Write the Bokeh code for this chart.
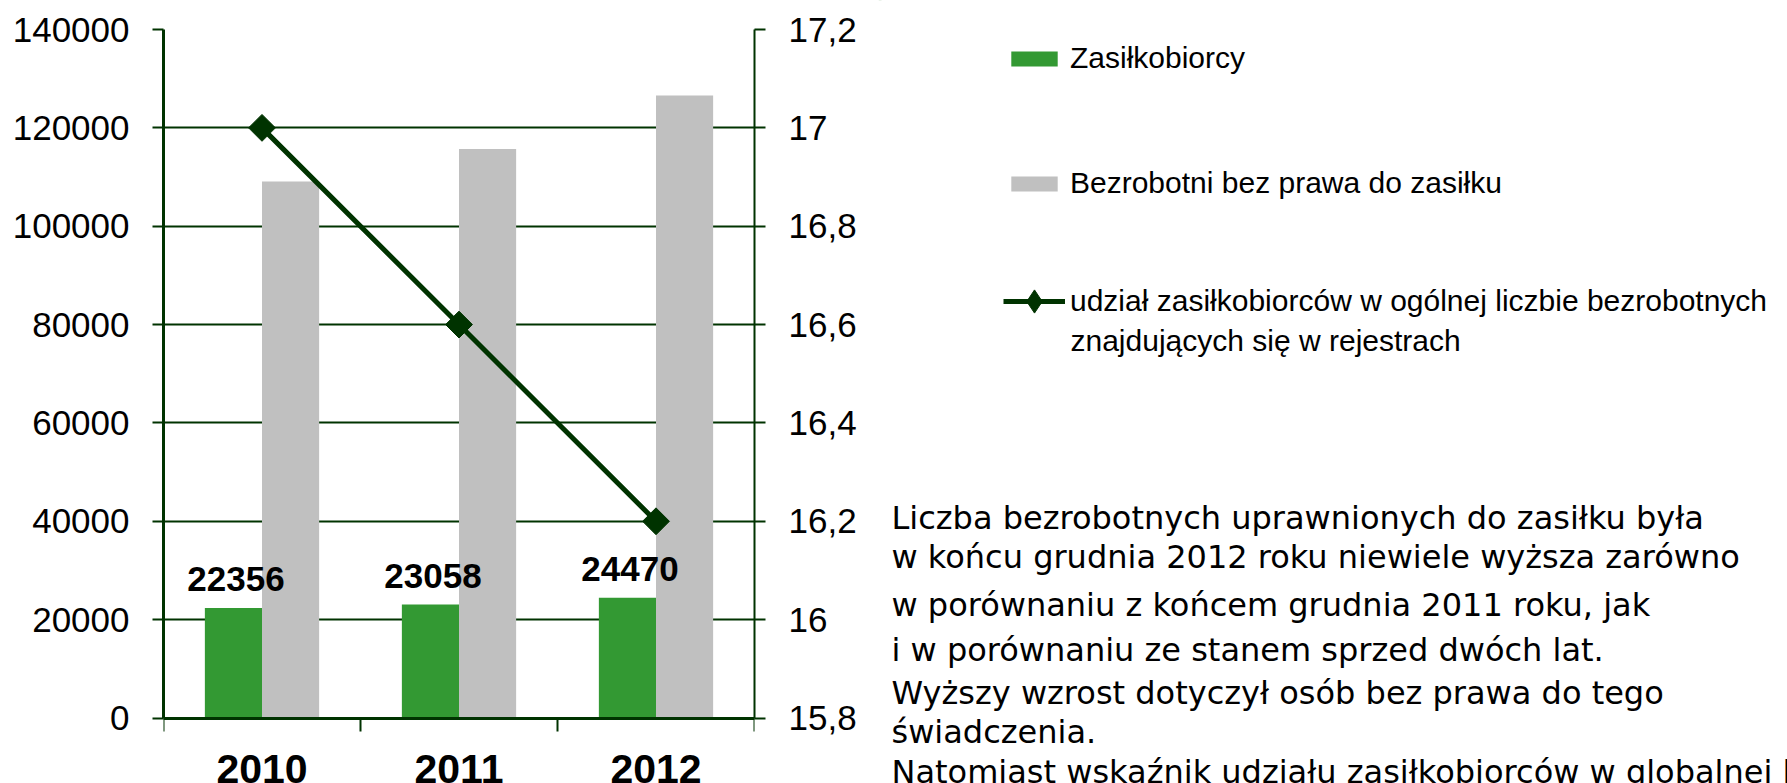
import math
from bokeh.plotting import figure
from bokeh.models import (Range1d, LinearAxis, FixedTicker, ColumnDataSource,
                          LabelSet, Legend, LegendItem, CustomJSTickFormatter, BasicTickFormatter)
from bokeh.transform import dodge
from bokeh.layouts import row
from bokeh.embed import file_html
from bokeh.resources import INLINE
from bokeh.core.properties import value

# ---------------- data ----------------
years = ["2010", "2011", "2012"]
zasilkobiorcy = [22356, 23058, 24470]
bez_prawa = [109100, 115700, 126600]
udzial = [17.0, 16.6, 16.2]
left_ticks = [0, 20000, 40000, 60000, 80000, 100000, 120000, 140000]
right_ticks = [15.8, 16.0, 16.2, 16.4, 16.6, 16.8, 17.0, 17.2]
legend_labels = ["Zasiłkobiorcy",
                 "Bezrobotni bez prawa do zasiłku",
                 "udział zasiłkobiorców w ogólnej liczbie bezrobotnych",
                 "znajdujących się w rejestrach"]
paragraph = ["Liczba bezrobotnych  uprawnionych  do zasiłku była",
             "w końcu grudnia 2012 roku niewiele wyższa zarówno",
             "w porównaniu  z  końcem grudnia 2011  roku, jak",
             "i w porównaniu  ze stanem sprzed dwóch lat.",
             "Wyższy wzrost dotyczył osób bez prawa do tego",
             "świadczenia.",
             "Natomiast  wskaźnik  udziału  zasiłkobiorców  w globalnej  liczbie"]

# ---------------- style / layout ----------------
GREEN = "#339933"
GRAY = "#C0C0C0"
DARK = "#003300"
FONT = "Liberation Sans"
PFONT = "DejaVu Sans"
W, H = 1787, 783
W1 = 878                 # chart width
W2 = W - W1              # legend/text panel width
TOP = 29                 # frame top (pixel)
PLOT_PX = 688.5          # pixel height of the value axes (0..140000)
FRAME_PX = H - TOP
ext = (FRAME_PX - PLOT_PX) / PLOT_PX   # frame continues below the zero line

n = len(years)
centres = [i + 0.5 for i in range(n)]

src = ColumnDataSource(dict(year=years, xc=centres, z=zasilkobiorcy, b=bez_prawa, u=udzial,
                            zl=[str(v) for v in zasilkobiorcy]))

y_lo, y_hi = left_ticks[0], left_ticks[-1]
r_lo, r_hi = right_ticks[0], right_ticks[-1]

# ---------------- chart ----------------
p = figure(width=W1, height=H, x_range=Range1d(0, n),
           y_range=Range1d(y_lo - ext * (y_hi - y_lo), y_hi),
           x_axis_location=None, output_backend="svg", toolbar_location=None, title=None,
           min_border_left=163, min_border_right=124, min_border_top=TOP, min_border_bottom=0)
p.frame_align = False
p.outline_line_color = None
p.background_fill_color = "white"
p.border_fill_color = "white"
p.extra_y_ranges = {"pct": Range1d(r_lo - ext * (r_hi - r_lo), r_hi)}

lt = FixedTicker(ticks=left_ticks)
ya = p.yaxis[0]
ya.ticker = lt
ya.formatter = BasicTickFormatter(use_scientific=False)
ya.bounds = (y_lo, y_hi)


def style_axis(ax, lw):
    ax.axis_line_color = DARK
    ax.axis_line_width = lw
    ax.major_tick_line_color = DARK
    ax.major_tick_line_width = 2
    ax.major_tick_out = 11
    ax.major_tick_in = 0
    ax.minor_tick_line_color = None
    ax.major_label_text_font = FONT
    ax.major_label_text_font_size = "35px"
    ax.major_label_text_color = "black"
    ax.major_label_standoff = 23


style_axis(ya, 3)

ra = LinearAxis(y_range_name="pct", ticker=FixedTicker(ticks=right_ticks), bounds=(r_lo, r_hi),
                formatter=CustomJSTickFormatter(code="var s=(Math.round(tick*10)/10).toString(); return s.replace('.', ',');"))
style_axis(ra, 2)
p.add_layout(ra, "right")

# category axis drawn on the zero line, ticks at category boundaries (no labels)
ba = LinearAxis(fixed_location=0, ticker=FixedTicker(ticks=list(range(n + 1))),
                formatter=CustomJSTickFormatter(code="return '';"))
ba.axis_line_color = DARK
ba.axis_line_width = 3
ba.major_tick_line_color = DARK
ba.major_tick_line_width = 2
ba.major_tick_out = 13
ba.major_tick_in = 0
ba.minor_tick_line_color = None
ba.major_label_standoff = 0
p.add_layout(ba, "below")

p.xgrid.visible = False
p.ygrid.ticker = lt
p.ygrid.grid_line_color = DARK
p.ygrid.grid_line_width = 2

p.vbar(x=dodge("xc", -0.145), top="z", width=0.29, source=src,
       fill_color=GREEN, line_color=None)
p.vbar(x=dodge("xc", 0.145), top="b", width=0.29, source=src,
       fill_color=GRAY, line_color=None)
p.line("xc", "u", source=src, y_range_name="pct", line_color=DARK, line_width=5)
p.scatter("xc", "u", source=src, y_range_name="pct", marker="square", angle=math.pi / 4,
          size=19, fill_color=DARK, line_color=DARK)

p.add_layout(LabelSet(x=dodge("xc", -0.132), y="z", text="zl", source=src,
                      y_offset=17, text_align="center", text_baseline="alphabetic",
                      text_font=value(FONT), text_font_size="35px", text_font_style="bold",
                      text_color="black"))
# year labels under the zero line
p.add_layout(LabelSet(x="xc", y=y_lo, y_offset=-65, text="year", source=src,
                      text_align="center", text_baseline="alphabetic",
                      text_font=value(FONT), text_font_size="41px", text_font_style="bold",
                      text_color="black"))

# ---------------- legend + text panel ----------------
p2 = figure(width=W2, height=H, x_range=Range1d(0, W2), y_range=Range1d(H, 0),
            x_axis_location=None, y_axis_location=None, output_backend="svg",
            toolbar_location=None, title=None, min_border=0,
            min_border_left=0, min_border_right=0, min_border_top=0, min_border_bottom=0)
p2.frame_align = False
p2.outline_line_color = None
p2.xgrid.visible = False
p2.ygrid.visible = False
# legend key renderers: real data mapped onto a range where nothing is in view
p2.extra_y_ranges = {"off": Range1d(-2, -1)}
r_g = p2.vbar(x="xc", top="z", width=0.29, source=src, y_range_name="off",
              fill_color=GREEN, line_color=None)
r_b = p2.vbar(x="xc", top="b", width=0.29, source=src, y_range_name="off",
              fill_color=GRAY, line_color=None)
r_l = p2.line("xc", "u", source=src, y_range_name="off", line_color=DARK, line_width=5)
r_m = p2.scatter("xc", "u", source=src, y_range_name="off", marker="diamond", size=23,
                 fill_color=DARK, line_color=DARK)


def mk_legend(items, loc, gw, gh, spacing, standoff):
    return Legend(items=items, location=loc, glyph_width=gw, glyph_height=gh, label_height=gh,
                  spacing=spacing, padding=0, margin=0, border_line_color=None,
                  background_fill_alpha=0, label_text_font=FONT, label_text_font_size="30px",
                  label_standoff=standoff, label_text_color="black")


lg1 = mk_legend([LegendItem(label=legend_labels[0], renderers=[r_g]),
                 LegendItem(label=legend_labels[1], renderers=[r_b])],
                (127, 583), 58, 19, 91, 7)
lg2 = mk_legend([LegendItem(label=legend_labels[2], renderers=[r_l, r_m])],
                (125, 453), 62, 58, 0, 5)
p2.add_layout(lg1)
p2.add_layout(lg2)

cont_src = ColumnDataSource(dict(x=[192], y=[350], t=[legend_labels[3]]))
p2.add_layout(LabelSet(x="x", y="y", text="t", source=cont_src, text_baseline="alphabetic",
                       text_font=value(FONT), text_font_size="30px", text_color="black"))

para_y = [528, 567, 615, 660, 703, 742, 782]
para_src = ColumnDataSource(dict(x=[13] * len(paragraph), y=para_y, t=paragraph))
p2.add_layout(LabelSet(x="x", y="y", text="t", source=para_src, text_baseline="alphabetic",
                       text_font=value(PFONT), text_font_size="32px", text_color="black"))

layout = row(p, p2)
open("out.html", "w").write(file_html(layout, INLINE))
